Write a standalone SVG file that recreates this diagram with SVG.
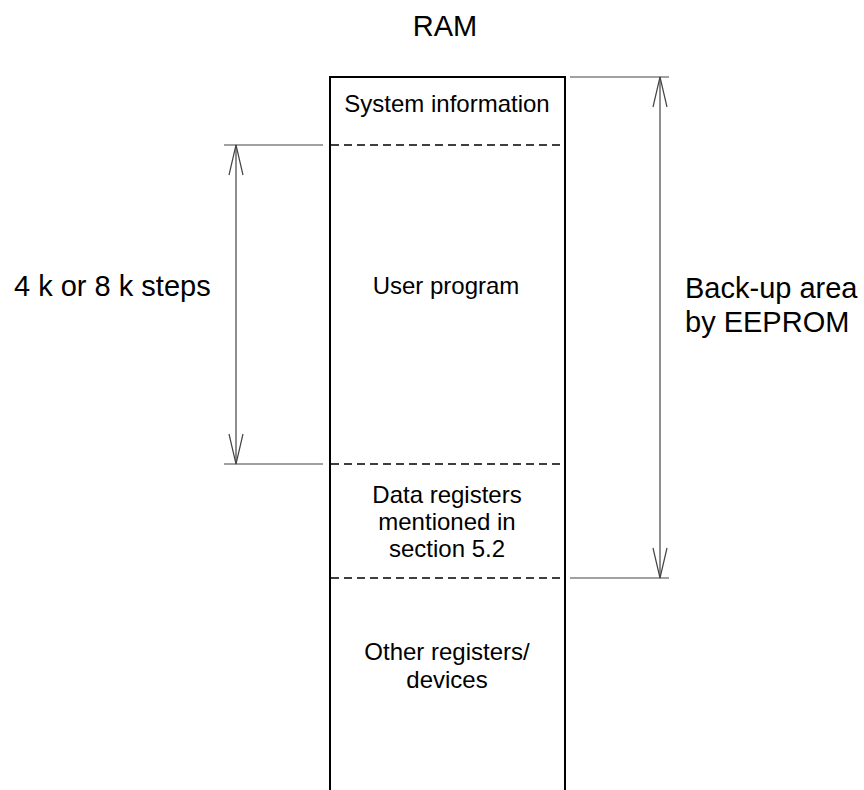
<svg xmlns="http://www.w3.org/2000/svg" width="864" height="790" viewBox="0 0 864 790">
<style>
text{font-family:"Liberation Sans",Arial,sans-serif;fill:#000}
.s{font-size:24px;text-anchor:middle}
.l{font-size:29px}
.box{fill:none;stroke:#000;stroke-width:2}
.dash{stroke:#000;stroke-width:1.5;stroke-dasharray:8,5}
.dim{stroke:#444;stroke-width:1.2;fill:none}
</style>
<rect width="864" height="790" fill="#fff"/>
<text class="l" x="445" y="36" text-anchor="middle">RAM</text>
<g id="ram">
<path class="box" d="M330,800 V77 H565 V800"/>
</g>
<g id="system-info">
<text class="s" x="447" y="112">System information</text>
</g>
<g id="user-program">
<line class="dash" x1="331" y1="145" x2="564" y2="145"/>
<text class="s" x="446" y="294">User program</text>
</g>
<g id="data-registers">
<line class="dash" x1="331" y1="464" x2="564" y2="464"/>
<text class="s" x="447" y="503">Data registers</text>
<text class="s" x="447" y="530">mentioned in</text>
<text class="s" x="447" y="557">section 5.2</text>
</g>
<g id="other-registers">
<line class="dash" x1="331" y1="578" x2="564" y2="578"/>
<text class="s" x="447" y="660">Other registers/</text>
<text class="s" x="447" y="688">devices</text>
</g>
<g id="connectors">
<line class="dim" x1="224" y1="145" x2="323" y2="145"/>
<line class="dim" x1="224" y1="464" x2="323" y2="464"/>
<line class="dim" x1="236" y1="145" x2="236" y2="464"/>
<path class="dim" d="M229,175 L236,145 L243,175 M229,434 L236,464 L243,434"/>
<line class="dim" x1="570" y1="77" x2="669" y2="77"/>
<line class="dim" x1="570" y1="578" x2="669" y2="578"/>
<line class="dim" x1="660" y1="77" x2="660" y2="578"/>
<path class="dim" d="M653,107 L660,77 L667,107 M653,548 L660,578 L667,548"/>
</g>
<text class="l" x="14" y="296">4 k or 8 k steps</text>
<text class="l" x="685" y="298">Back-up area</text>
<text class="l" x="685" y="332">by EEPROM</text>
</svg>
